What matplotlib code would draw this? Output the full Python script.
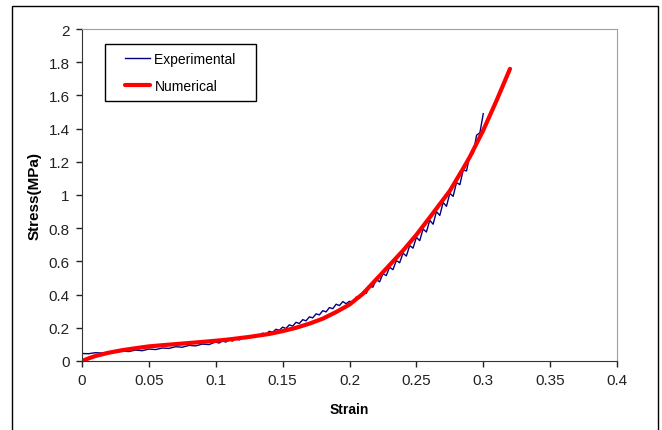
import numpy as np
import matplotlib
matplotlib.use("Agg")
import matplotlib.pyplot as plt
from matplotlib.patches import Rectangle
from matplotlib.legend_handler import HandlerLine2D

plt.rcParams['font.family'] = ['Liberation Sans', 'DejaVu Sans']

# experimental curve (noisy test data)
strain_exp = [0.0, 0.0, 0.005, 0.010, 0.015, 0.020, 0.025, 0.030, 0.035, 0.040, 0.045,
              0.050, 0.055, 0.060, 0.065, 0.070, 0.075, 0.080, 0.085, 0.090, 0.095,
              0.1000, 0.1025, 0.1050, 0.1075, 0.1100, 0.1125, 0.1150, 0.1175,
              0.1200, 0.1225, 0.1250, 0.1275, 0.1300, 0.1325, 0.1350, 0.1375,
              0.1400, 0.1425, 0.1450, 0.1475, 0.1500, 0.1525, 0.1550, 0.1575,
              0.1600, 0.1625, 0.1650, 0.1675, 0.1700, 0.1725, 0.1750, 0.1775,
              0.1800, 0.1825, 0.1850, 0.1875, 0.1900, 0.1925, 0.1950, 0.1975,
              0.2000, 0.2025, 0.2050, 0.2075, 0.2100, 0.2125, 0.2150, 0.2175,
              0.2200, 0.2225, 0.2250, 0.2275, 0.2300, 0.2325, 0.2350, 0.2375,
              0.2400, 0.2425, 0.2450, 0.2475, 0.2500, 0.2525, 0.2550, 0.2575,
              0.2600, 0.2625, 0.2650, 0.2675, 0.2700, 0.2725, 0.2750, 0.2775,
              0.2800, 0.2825, 0.2850, 0.2875, 0.2900, 0.2925, 0.2950, 0.2975,
              0.3000]
stress_exp = [0.0, 0.045, 0.044, 0.050, 0.048, 0.054, 0.052, 0.060, 0.057, 0.066, 0.062,
              0.072, 0.069, 0.078, 0.076, 0.086, 0.083, 0.094, 0.091, 0.102, 0.099,
              0.115, 0.108, 0.121, 0.114, 0.127, 0.120, 0.134, 0.127,
              0.141, 0.135, 0.149, 0.143, 0.158, 0.152, 0.168, 0.162,
              0.179, 0.173, 0.191, 0.185, 0.204, 0.196, 0.218, 0.210,
              0.233, 0.226, 0.249, 0.242, 0.266, 0.260, 0.284, 0.278,
              0.303, 0.296, 0.322, 0.315, 0.342, 0.334, 0.358, 0.345,
              0.360, 0.352, 0.385, 0.380, 0.415, 0.407, 0.450, 0.445,
              0.490, 0.477, 0.525, 0.515, 0.565, 0.550, 0.605, 0.592,
              0.650, 0.632, 0.695, 0.680, 0.745, 0.725, 0.795, 0.777,
              0.848, 0.824, 0.900, 0.877, 0.955, 0.932, 1.010, 0.992,
              1.075, 1.062, 1.150, 1.145, 1.240, 1.250, 1.360, 1.375,
              1.490]

# numerical (model) curve
strain_num = [0.0, 0.005, 0.01, 0.02, 0.03, 0.04, 0.05, 0.06, 0.075, 0.09, 0.1, 0.11, 0.125,
              0.14, 0.15, 0.16, 0.17, 0.18, 0.19, 0.2, 0.21, 0.225, 0.24, 0.25, 0.26,
              0.275, 0.285, 0.29, 0.3, 0.31, 0.32]
stress_num = [0.0, 0.016, 0.03, 0.05, 0.065, 0.077, 0.088, 0.095, 0.105, 0.115, 0.122, 0.13, 0.145,
              0.163, 0.18, 0.2, 0.225, 0.255, 0.295, 0.34, 0.405, 0.535, 0.665, 0.76, 0.865,
              1.025, 1.16, 1.23, 1.39, 1.57, 1.76]

xticks = [0, 0.05, 0.1, 0.15, 0.2, 0.25, 0.3, 0.35, 0.4]
yticks = [0, 0.2, 0.4, 0.6, 0.8, 1, 1.2, 1.4, 1.6, 1.8, 2]

fig = plt.figure(figsize=(6.62, 4.31), dpi=100)
# outer chart frame
fig.patches.append(Rectangle((12/662, -0.01), 646/662, 1 - 7/431 + 0.01, transform=fig.transFigure,
                             fill=False, edgecolor="black", lw=1.0))
ax = fig.add_axes([82/662, 1 - 362/431, 535/662, 332/431])

ln_exp, = ax.plot(strain_exp, stress_exp, color="#000080", lw=1.0, label="Experimental   ")
ln_num, = ax.plot(strain_num, stress_num, color="#ff0000", lw=3.0, label="Numerical",
                  solid_capstyle="round", solid_joinstyle="round")

ax.set_xlim(0, 0.4)
ax.set_ylim(0, 2)
ax.set_xticks(xticks)
ax.set_xticklabels([("%g" % v) for v in xticks])
ax.set_yticks(yticks)
ax.set_yticklabels([("%g" % v) for v in yticks])
ax.tick_params(direction="out", length=4, width=1, labelsize=11, colors="#222222", pad=5)
for s in ["top", "right"]:
    ax.spines[s].set_color("#a0a0a0")
for s in ["left", "bottom"]:
    ax.spines[s].set_color("#333333")

ax.set_xlabel("Strain", fontsize=10, fontweight="bold")
ax.set_ylabel("Stress(MPa)", fontsize=11, fontweight="bold")
ax.xaxis.set_label_coords(0.5, -0.122)
ax.yaxis.set_label_coords(-0.075, 0.5)

# legend box sits at a fixed spot, handles pushed right like the original
leg = ax.legend(loc="upper left", bbox_to_anchor=((105-82)/535, (362-45)/332), fontsize=10,
                frameon=True, fancybox=False, edgecolor="black", framealpha=1,
                handlelength=2.66, handletextpad=0.3, borderpad=0.6, labelspacing=0.9,
                borderaxespad=0,
                handler_map={ln_exp: HandlerLine2D(xpad=0.86), ln_num: HandlerLine2D(xpad=0.86)})
leg.get_frame().set_linewidth(1.0)

fig.savefig("out.png", dpi=100)
